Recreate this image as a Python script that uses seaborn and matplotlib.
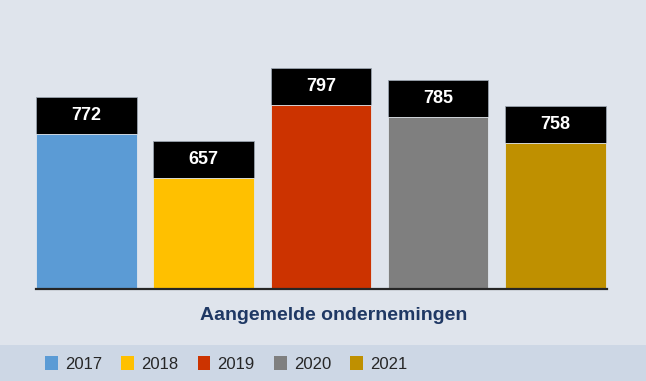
import matplotlib
matplotlib.use("Agg")
import matplotlib.pyplot as plt
from matplotlib.patches import Patch, Rectangle
import pandas as pd
import seaborn as sns

# Data
jaren = ["2017", "2018", "2019", "2020", "2021"]
aantallen = [772, 657, 797, 785, 758]
# hoogte van de gekleurde balk zoals getekend (zelfde eenheid als de as)
balk_hoogte = [155, 111, 184, 172, 146]
label_hoogte = 37.5
kleuren = ["#5B9BD5", "#FFC000", "#CC3300", "#7F7F7F", "#BF9000"]

BG = "#DFE4EC"
BAND = "#CDD7E5"
TITEL_KLEUR = "#1F3864"

df = pd.DataFrame({
    "jaar": jaren,
    "aantal": aantallen,
    "hoogte": balk_hoogte,
})
df["totaal"] = df["hoogte"] + label_hoogte

sns.set_theme(style="white")
plt.rcParams["font.family"] = ["Liberation Sans", "DejaVu Sans"]

W, H = 646, 381
fig = plt.figure(figsize=(W / 100, H / 100), dpi=100)
fig.patch.set_facecolor(BG)
fig.patches.append(Rectangle((0, 0), 1, 36 / H, transform=fig.transFigure,
                             facecolor=BAND, edgecolor="none", zorder=0))

ax = fig.add_axes([36 / W, 92 / H, 571 / W, 289 / H])
ax.set_facecolor("none")

# zwarte labelvakken (totaal) en daarover de gekleurde balken
sns.barplot(data=df, x="jaar", y="totaal", color="black", width=0.856,
            edgecolor="#9AA3AE", linewidth=0.6, ax=ax)
sns.barplot(data=df, x="jaar", y="hoogte", hue="jaar", palette=kleuren,
            width=0.856, legend=False, edgecolor="#E8EDF3", linewidth=0.6,
            saturation=1, ax=ax)

for i, row in df.iterrows():
    ax.text(i, row["hoogte"] + label_hoogte / 2, str(row["aantal"]),
            ha="center", va="center", color="white", fontsize=13,
            fontweight="bold")

ax.set_xlim(-0.43, 4.44)
ax.set_ylim(0, 289)
ax.set_xticks([])
ax.set_yticks([])
ax.set_xlabel("")
ax.set_ylabel("")
for s in ["top", "right", "left"]:
    ax.spines[s].set_visible(False)
ax.spines["bottom"].set_color("#262626")
ax.spines["bottom"].set_linewidth(1.6)

fig.text(334 / W, (H - 316) / H, "Aangemelde ondernemingen", ha="center",
         va="center", fontsize=14, fontweight="bold", color=TITEL_KLEUR)

handles = [Patch(facecolor=c, edgecolor="none", label=j)
           for j, c in zip(jaren, kleuren)]
fig.legend(handles=handles, loc="center left", ncol=5,
           bbox_to_anchor=(45 / W, (H - 364) / H), frameon=False,
           fontsize=12, handlelength=0.75, handleheight=0.85,
           handletextpad=0.45, columnspacing=1.15, borderpad=0,
           borderaxespad=0)

fig.savefig("out.png", dpi=100, facecolor=BG)
